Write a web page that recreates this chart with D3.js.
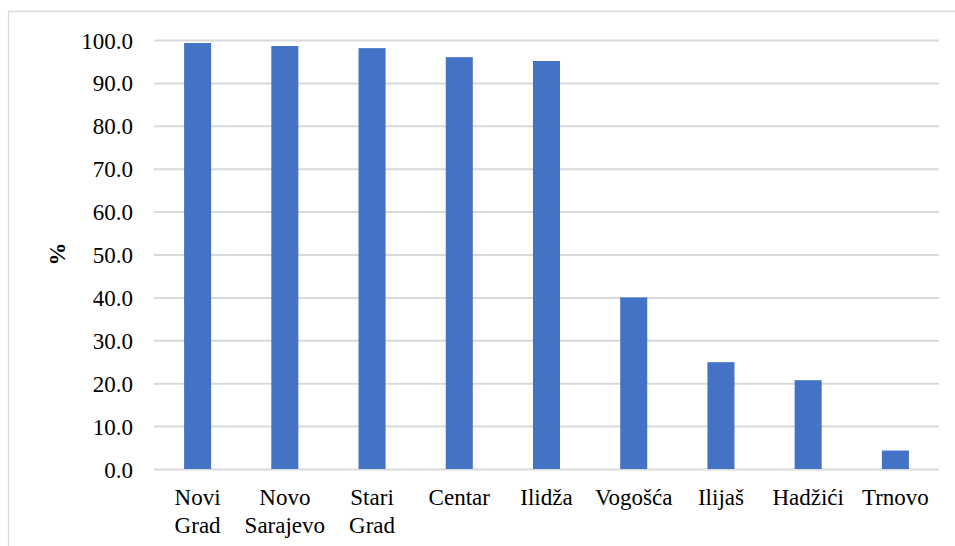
<!DOCTYPE html>
<html><head><meta charset="utf-8">
<script src="https://cdn.jsdelivr.net/npm/d3@7"></script>
<style>body{margin:0;background:#fff}svg{display:block}</style>
</head><body>
<script>
const categories = [["Novi","Grad"],["Novo","Sarajevo"],["Stari","Grad"],["Centar"],["Ilidža"],["Vogošća"],["Ilijaš"],["Hadžići"],["Trnovo"]];
const values = [99.3, 98.6, 98.1, 96.0, 95.1, 40.0, 24.9, 20.7, 4.3];
const yTicks = [0,10,20,30,40,50,60,70,80,90,100];

const W = 955, H = 546;
const m = {left:154, right:16, top:40, bottom:77};
const FF = '"Liberation Serif"';
const svg = d3.select("body").append("svg").attr("width",W).attr("height",H)
  .attr("font-family",FF);

svg.append("path").attr("d",`M8.5,${H} V11.5 H${W}`).attr("fill","none").attr("stroke","#d9d9d9").attr("stroke-width",1.3);

const names = categories.map(c=>c.join(" "));
const x = d3.scaleBand().domain(names).range([m.left, W-m.right]).paddingInner(0.69).paddingOuter(0.345);
const y = d3.scaleLinear().domain([0,100]).range([H-m.bottom, m.top]);

const yAxis = svg.append("g").attr("transform",`translate(${m.left},0)`)
  .call(d3.axisLeft(y).tickValues(yTicks).tickSize(-(W-m.right-m.left)).tickFormat(d3.format(".1f")));
yAxis.attr("font-family",FF).attr("font-size",23);
yAxis.select(".domain").remove();
yAxis.selectAll(".tick line").attr("stroke","#d9d9d9").attr("stroke-width",2);
yAxis.selectAll(".tick text").attr("x",-21).attr("dy","0.35em").attr("fill","#000")
  .attr("font-family",FF).attr("font-size",23);

svg.append("g").selectAll("rect").data(values).join("rect")
  .attr("x",(d,i)=>x(names[i])).attr("width",x.bandwidth())
  .attr("y",d=>y(d)).attr("height",d=>y(0)-y(d))
  .attr("fill","#4472c4");

const xl = svg.append("g").selectAll("text").data(categories).join("text")
  .attr("text-anchor","middle").attr("fill","#000")
  .attr("font-family",FF).attr("font-size",23);
xl.each(function(c,i){
  const t = d3.select(this);
  c.forEach((line,j)=>{
    t.append("tspan").attr("x",x(names[i])+x.bandwidth()/2).attr("y",505+j*27.5).text(line);
  });
});

svg.append("text").attr("transform","translate(65,254) rotate(-90)")
  .attr("text-anchor","middle").attr("fill","#000")
  .attr("font-family",FF).attr("font-size",23).attr("font-weight","bold").text("%");
</script>
</body></html>
